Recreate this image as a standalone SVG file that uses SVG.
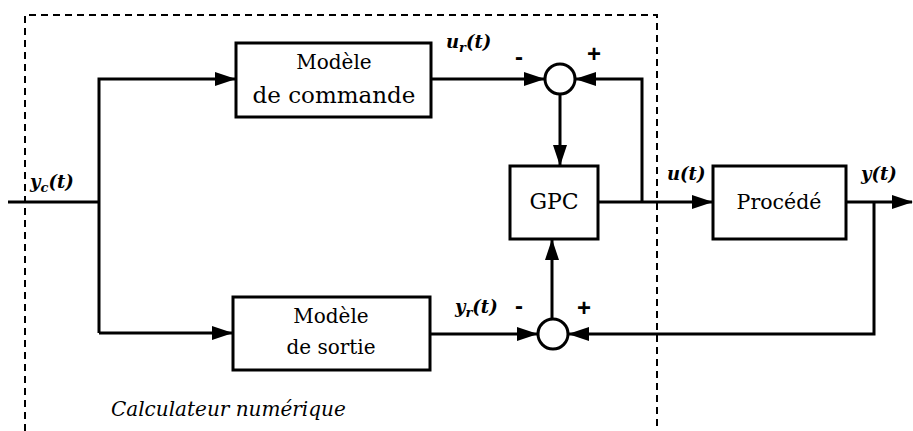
<svg xmlns="http://www.w3.org/2000/svg" width="913" height="431" viewBox="0 0 913 431">
<style>
.box{fill:#fff;stroke:#000;stroke-width:3}
.sum{fill:#fff;stroke:#000;stroke-width:3}
.ln{fill:none;stroke:#000;stroke-width:3}
.dash{fill:none;stroke:#000;stroke-width:2;stroke-dasharray:7 5}
.t{font-family:'DejaVu Serif','Noto Serif','Liberation Serif',FreeSerif,Times,serif;fill:#000;text-anchor:middle}
.lab{font-family:'DejaVu Serif','Noto Serif','Liberation Serif',FreeSerif,Times,serif;font-style:italic;font-weight:bold;font-size:18px;fill:#000}
.cap{font-family:'DejaVu Serif','Noto Serif','Liberation Serif',FreeSerif,Times,serif;font-style:italic;font-size:20px;fill:#000}
.sg{font-family:'Liberation Sans',Arial,sans-serif;font-weight:bold;font-size:24px;fill:#000;text-anchor:middle}
</style>
<defs>
<marker id="ah" markerUnits="userSpaceOnUse" markerWidth="21" markerHeight="14" refX="20" refY="7" orient="auto">
<path d="M0,0 L21,7 L0,14 z" fill="#000"/>
</marker>
</defs>
<rect width="913" height="431" fill="#fff"/>
<g id="boundary">
<path class="dash" d="M25,431 V15 H657 V431"/>
<text class="cap" x="111" y="416">Calculateur numérique</text>
</g>
<g id="connectors">
<path class="ln" d="M8,202 H99"/>
<path class="ln" d="M99,333 V79 H235" marker-end="url(#ah)"/>
<path class="ln" d="M99,333 H232" marker-end="url(#ah)"/>
<path class="ln" d="M431,79 H544" marker-end="url(#ah)"/>
<path class="ln" d="M642,202 V79 H576" marker-end="url(#ah)"/>
<path class="ln" d="M560,94 V165" marker-end="url(#ah)"/>
<path class="ln" d="M598,202 H712" marker-end="url(#ah)"/>
<path class="ln" d="M846,202 H912" marker-end="url(#ah)"/>
<path class="ln" d="M874,202 V334 H569" marker-end="url(#ah)"/>
<path class="ln" d="M430,334 H537" marker-end="url(#ah)"/>
<path class="ln" d="M552,319 V240" marker-end="url(#ah)"/>
</g>
<g id="modele-commande">
<rect class="box" x="236" y="43" width="195" height="74"/>
<text class="t" x="334" y="69" font-size="20">Modèle</text>
<text class="t" x="334" y="103" font-size="23">de commande</text>
</g>
<g id="modele-sortie">
<rect class="box" x="233" y="297" width="197" height="73"/>
<text class="t" x="331" y="323" font-size="20">Modèle</text>
<text class="t" x="331" y="354" font-size="20">de sortie</text>
</g>
<g id="sum-top">
<circle class="sum" cx="560" cy="79" r="15"/>
</g>
<g id="sum-bottom">
<circle class="sum" cx="553" cy="334" r="15"/>
</g>
<g id="gpc">
<rect class="box" x="510" y="166" width="88" height="73"/>
<text class="t" x="554" y="209" font-size="22">GPC</text>
</g>
<g id="procede">
<rect class="box" x="713" y="166" width="133" height="73"/>
<text class="t" x="779" y="209" font-size="20.5">Procédé</text>
</g>
<g id="labels">
<text class="lab" x="30" y="188">y<tspan font-size="13" dy="4">c</tspan><tspan dy="-4">(t)</tspan></text>
<text class="lab" x="446" y="48">u<tspan font-size="13" dy="4">r</tspan><tspan dy="-4">(t)</tspan></text>
<text class="lab" x="455" y="313">y<tspan font-size="13" dy="4">r</tspan><tspan dy="-4">(t)</tspan></text>
<text class="lab" x="667" y="180">u(t)</text>
<text class="lab" x="861" y="180">y(t)</text>
<text class="sg" x="519" y="65">-</text>
<text class="sg" x="594" y="62">+</text>
<text class="sg" x="519" y="314">-</text>
<text class="sg" x="584" y="316">+</text>
</g>
</svg>
